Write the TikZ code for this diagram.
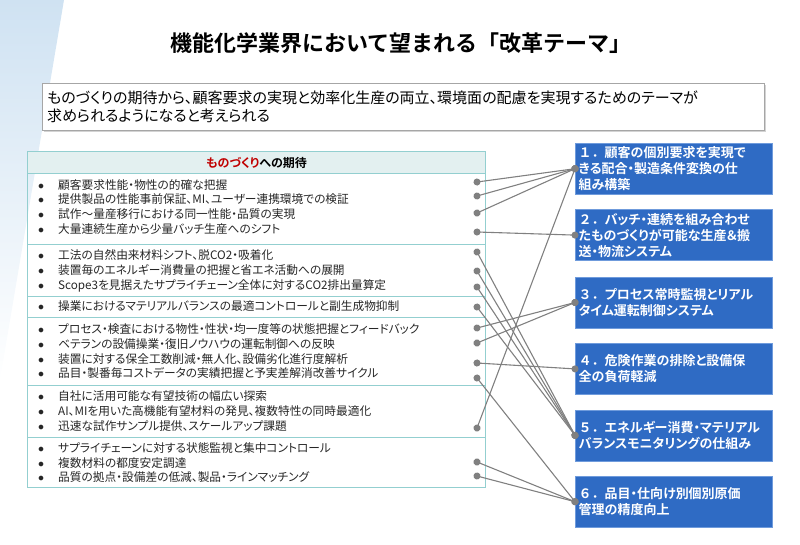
\documentclass[tikz,border=0pt]{standalone}
\usepackage{fontspec}
\setmainfont{Noto Sans CJK JP}[BoldFont={Noto Sans CJK JP Bold},RawFeature={+palt}]
\usepackage{tikz}
\usetikzlibrary{arrows.meta,positioning,shadows}
\definecolor{themeblue}{HTML}{2F6BC4}
\definecolor{themeedge}{HTML}{6F9BDC}
\definecolor{tealrule}{HTML}{93CFD0}
\definecolor{headfill}{HTML}{E3F0F0}
\definecolor{linkgrey}{HTML}{808080}
\definecolor{textgrey}{HTML}{262626}
\definecolor{monored}{HTML}{C00000}
\definecolor{stripeblue}{HTML}{CFE2F2}
\definecolor{introedge}{HTML}{A6A6A6}
\newcommand{\titlefont}{\fontsize{22}{26}\selectfont\bfseries\addfontfeature{RawFeature=-palt}}
\newcommand{\introfont}{\fontsize{15}{18}\selectfont}
\newcommand{\headfont}{\fontsize{12}{14}\selectfont\bfseries}
\newcommand{\itemfont}{\fontsize{11.7}{14}\selectfont}
\newcommand{\themefont}{\fontsize{13}{16}\selectfont\bfseries}
\newcommand{\bul}{\makebox[20pt][l]{$\bullet$}}
\newcommand{\thno}[1]{{\addfontfeature{RawFeature=-palt}#1．}}
\tikzset{
  titletext/.style={font=\titlefont,text=black},
  introbox/.style={rectangle,draw=introedge,fill=white,anchor=north west,minimum width=722pt,minimum height=47pt,text width=712pt,align=left,inner xsep=5pt,font=\introfont,drop shadow={shadow xshift=2pt,shadow yshift=-2pt,opacity=0.35}},
  headbox/.style={rectangle,draw=tealrule,line width=1pt,fill=headfill,anchor=north west,minimum width=458pt,minimum height=22pt,font=\headfont},
  itemtext/.style={anchor=west,inner sep=0pt,font=\itemfont,text=textgrey},
  themebox/.style={rectangle,draw=themeedge,fill=themeblue,text=white,anchor=north west,minimum width=197pt,minimum height=51pt,text width=190pt,inner xsep=3.5pt,inner ysep=2pt,align=left,font=\themefont},
  tablerule/.style={draw=tealrule,line width=1pt},
  link/.style={draw=linkgrey,line width=1.1pt,{Circle[length=7pt,width=7pt]}-{Circle[length=7pt,width=7pt]},shorten <=-3.5pt,shorten >=-3.5pt}
}
\begin{document}
\begin{tikzpicture}[x=1pt,y=-1pt]
  \useasboundingbox (0,0) rectangle (800,544);
  \shade[top color=stripeblue,bottom color=white] (0,0) -- (64,0) -- (0,380) -- cycle;

  \node[titletext] (title) at (401,43) {機能化学業界において望まれる「改革テーマ」};
  \node[introbox] (intro) at (42,83) {ものづくりの期待から、顧客要求の実現と効率化生産の両立、環境面の配慮を実現するためのテーマが\\求められるようになると考えられる};

  % table of expectations
  \draw[tablerule] (27,151) rectangle (485,487);
  \node[headbox] (head) at (27,151) {\textcolor{monored}{ものづくり}への期待};
  \draw[tablerule] (27,244) -- (485,244);
  \draw[tablerule] (27,296) -- (485,296);
  \draw[tablerule] (27,317) -- (485,317);
  \draw[tablerule] (27,385) -- (485,385);
  \draw[tablerule] (27,437) -- (485,437);

  \node[itemtext] (n1) at (38,185) {\bul 顧客要求性能・物性の的確な把握};
  \node[itemtext] (n2) at (38,199) {\bul 提供製品の性能事前保証、MI、ユーザー連携環境での検証};
  \node[itemtext] (n3) at (38,214) {\bul 試作～量産移行における同一性能・品質の実現};
  \node[itemtext] (n4) at (38,229) {\bul 大量連続生産から少量バッチ生産へのシフト};
  \node[itemtext] (n5) at (38,255) {\bul 工法の自然由来材料シフト、脱CO2・吸着化};
  \node[itemtext] (n6) at (38,270) {\bul 装置毎のエネルギー消費量の把握と省エネ活動への展開};
  \node[itemtext] (n7) at (38,286) {\bul Scope3を見据えたサプライチェーン全体に対するCO2排出量算定};
  \node[itemtext] (n8) at (38,306) {\bul 操業におけるマテリアルバランスの最適コントロールと副生成物抑制};
  \node[itemtext] (n9) at (38,329) {\bul プロセス・検査における物性・性状・均一度等の状態把握とフィードバック};
  \node[itemtext] (n10) at (38,344) {\bul ベテランの設備操業・復旧ノウハウの運転制御への反映};
  \node[itemtext] (n11) at (38,359) {\bul 装置に対する保全工数削減・無人化、設備劣化進行度解析};
  \node[itemtext] (n12) at (38,373) {\bul 品目・製番毎コストデータの実績把握と予実差解消改善サイクル};
  \node[itemtext] (n13) at (38,396) {\bul 自社に活用可能な有望技術の幅広い探索};
  \node[itemtext] (n14) at (38,411) {\bul AI、MIを用いた高機能有望材料の発見、複数特性の同時最適化};
  \node[itemtext] (n15) at (38,426) {\bul 迅速な試作サンプル提供、スケールアップ課題};
  \node[itemtext] (n16) at (38,448) {\bul サプライチェーンに対する状態監視と集中コントロール};
  \node[itemtext] (n17) at (38,463) {\bul 複数材料の都度安定調達};
  \node[itemtext] (n18) at (38,477) {\bul 品質の拠点・設備差の低減、製品・ラインマッチング};

  \coordinate (p1) at (477,182);
  \coordinate (p2) at (477,196);
  \coordinate (p3) at (477,213);
  \coordinate (p4) at (477,232);
  \coordinate (p5) at (477,252);
  \coordinate (p6) at (477,271);
  \coordinate (p7) at (477,287);
  \coordinate (p8) at (477,307);
  \coordinate (p9) at (477,328);
  \coordinate (p10) at (477,343);
  \coordinate (p11) at (477,363);
  \coordinate (p12) at (477,378);
  \coordinate (p15) at (477,428);
  \coordinate (p17) at (477,462);
  \coordinate (p18) at (477,476);

  % reform themes
  \node[themebox] (t1) at (575,143) {\thno{１}顧客の個別要求を実現で\\きる配合・製造条件変換の仕\\組み構築};
  \node[themebox, below=15pt of t1] (t2) {\thno{２}バッチ・連続を組み合わせ\\たものづくりが可能な生産＆搬\\送・物流システム};
  \node[themebox, below=16pt of t2] (t3) {\thno{３}プロセス常時監視とリアル\\タイム運転制御システム};
  \node[themebox, below=15pt of t3] (t4) {\thno{４}危険作業の排除と設備保\\全の負荷軽減};
  \node[themebox, below=15pt of t4] (t5) {\thno{５}エネルギー消費・マテリアル\\バランスモニタリングの仕組み};
  \node[themebox, below=15pt of t5] (t6) {\thno{６}品目・仕向け別個別原価\\管理の精度向上};

  \draw[link] (p1) -- (t1.west);
  \draw[link] (p2) -- (t1.west);
  \draw[link] (p3) -- (t1.west);
  \draw[link] (p4) -- (t2.west);
  \draw[link] (p5) -- (t5.west);
  \draw[link] (p6) -- (t5.west);
  \draw[link] (p7) -- (t5.west);
  \draw[link] (p8) -- (t5.west);
  \draw[link] (p9) -- (t3.west);
  \draw[link] (p10) -- (t3.west);
  \draw[link] (p11) -- (t4.west);
  \draw[link] (p12) -- (t6.west);
  \draw[link] (p15) -- (t1.west);
  \draw[link] (p17) -- (t6.west);
  \draw[link] (p18) -- (t6.west);
\end{tikzpicture}
\end{document}
